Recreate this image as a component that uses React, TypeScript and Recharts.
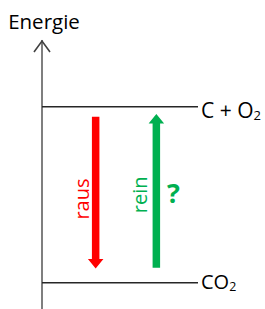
import React from "react";
import { ComposedChart, XAxis, YAxis, ReferenceLine, Label, Line } from "recharts";

// ---- data ----
const AXIS_TITLE = "Energie";
const LEVEL_NAMES = ["C + O2", "CO2"];
const LEVEL_ENERGY = [100, 0];
const ARROW_NAMES = ["raus", "rein"];
const ARROW_POS = [34.4, 73.3];
const ARROW_FROM = [94.4, 8.5];
const ARROW_TO = [8.1, 95.9];
const NOTE = "?";

// ---- styles ----
const FONT = "'Open Sans', sans-serif";
const ARROW_COLORS = ["#ff0000", "#00b050"];
const LEVEL_LABEL_DY = [11, 6];
const LEVEL_LABEL_SIZE = [21, 20];
const ARROW_LABEL_GAP = [7, 9.5];
const ARROW_LABEL_DY = [6.5, 4];

const W = 265;
const H = 309;

const chartData = LEVEL_ENERGY.map((e, i) => ({ x: ARROW_POS[i], e }));

function Formula({ x, y, text, size }: { x: number; y: number; text: string; size: number }) {
  const parts = text.split(/(\d+)/).filter((p) => p.length > 0);
  let sub = false;
  return (
    <text x={x} y={y} fontFamily={FONT} fontSize={size} fill="#000">
      {parts.map((p, i) => {
        const isSub = /^\d+$/.test(p);
        let dy = 0;
        if (isSub && !sub) dy = 2;
        else if (!isSub && sub) dy = -2;
        sub = isSub;
        return (
          <tspan key={i} dy={dy} fontSize={isSub ? size * 0.62 : size}>
            {p}
          </tspan>
        );
      })}
    </text>
  );
}

const makeArrow = (color: string) => (props: any) => {
  const { x1, y1, y2 } = props;
  const dir = Math.sign(y2 - y1);
  const headLen = 9.5;
  const headW = 15.5;
  const shaftW = 7.5;
  const baseY = y2 - dir * headLen;
  const d = `M${x1 - shaftW / 2},${y1} L${x1 + shaftW / 2},${y1} L${x1 + shaftW / 2},${baseY} L${x1 + headW / 2},${baseY} L${x1},${y2} L${x1 - headW / 2},${baseY} L${x1 - shaftW / 2},${baseY} Z`;
  return <path d={d} fill={color} />;
};

const axisShape = (props: any) => {
  const { x1, y1, y2 } = props;
  const top = Math.min(y1, y2);
  const bottom = Math.max(y1, y2);
  return (
    <g>
      <line x1={x1} y1={top} x2={x1} y2={bottom} stroke="#7f7f7f" strokeWidth={2} />
      <polyline
        points={`${x1 - 8},${top + 12} ${x1},${top + 1} ${x1 + 8},${top + 12}`}
        fill="none"
        stroke="#404040"
        strokeWidth={1.6}
      />
    </g>
  );
};

export default function App() {
  return (
    <div style={{ position: "absolute", left: 0, top: 0, width: W, height: H, background: "#fff" }}>
      <ComposedChart
        width={W}
        height={H}
        data={chartData}
        margin={{ top: 40, right: 67, bottom: 0, left: 42 }}
      >
        <XAxis type="number" dataKey="x" domain={[0, 100]} hide />
        <YAxis type="number" dataKey="e" domain={[-15, 138]} hide width={0} />
        <Line dataKey="e" stroke="none" dot={false} activeDot={false} isAnimationActive={false} />

        <ReferenceLine
          segment={[
            { x: 0, y: -15 },
            { x: 0, y: 138 },
          ]}
          shape={axisShape}
          label={(lp: any) => {
            const vb = lp.viewBox;
            return (
              <text x={vb.x + 2} y={28.5} textAnchor="middle" fontFamily={FONT} fontSize={20.5} fill="#000">
                {AXIS_TITLE}
              </text>
            );
          }}
        />

        {LEVEL_NAMES.map((name, i) => (
          <ReferenceLine
            key={name}
            segment={[
              { x: 0, y: LEVEL_ENERGY[i] },
              { x: 100, y: LEVEL_ENERGY[i] },
            ]}
            stroke="#262626"
            strokeWidth={1.5}
            label={(lp: any) => {
              const vb = lp.viewBox;
              return (
                <Formula
                  x={vb.x + vb.width + 3}
                  y={vb.y + LEVEL_LABEL_DY[i]}
                  text={name}
                  size={LEVEL_LABEL_SIZE[i]}
                />
              );
            }}
          />
        ))}

        {ARROW_NAMES.map((name, i) => (
          <ReferenceLine
            key={name}
            segment={[
              { x: ARROW_POS[i], y: ARROW_FROM[i] },
              { x: ARROW_POS[i], y: ARROW_TO[i] },
            ]}
            shape={makeArrow(ARROW_COLORS[i])}
          >
            <Label
              content={(lp: any) => {
                const vb = lp.viewBox;
                const bx = vb.x - ARROW_LABEL_GAP[i];
                const cy = vb.y + vb.height / 2 + ARROW_LABEL_DY[i];
                return (
                  <text
                    x={bx}
                    y={cy}
                    transform={`rotate(-90 ${bx} ${cy})`}
                    textAnchor="middle"
                    fontFamily={FONT}
                    fontSize={20}
                    fill={ARROW_COLORS[i]}
                  >
                    {name}
                  </text>
                );
              }}
            />
            {i === 1 ? (
              <Label
                content={(lp: any) => {
                  const vb = lp.viewBox;
                  return (
                    <text
                      x={vb.x + 17}
                      y={203}
                      textAnchor="middle"
                      fontFamily={FONT}
                      fontWeight="bold"
                      fontSize={27}
                      fill={ARROW_COLORS[i]}
                    >
                      {NOTE}
                    </text>
                  );
                }}
              />
            ) : null}
          </ReferenceLine>
        ))}
      </ComposedChart>
    </div>
  );
}
